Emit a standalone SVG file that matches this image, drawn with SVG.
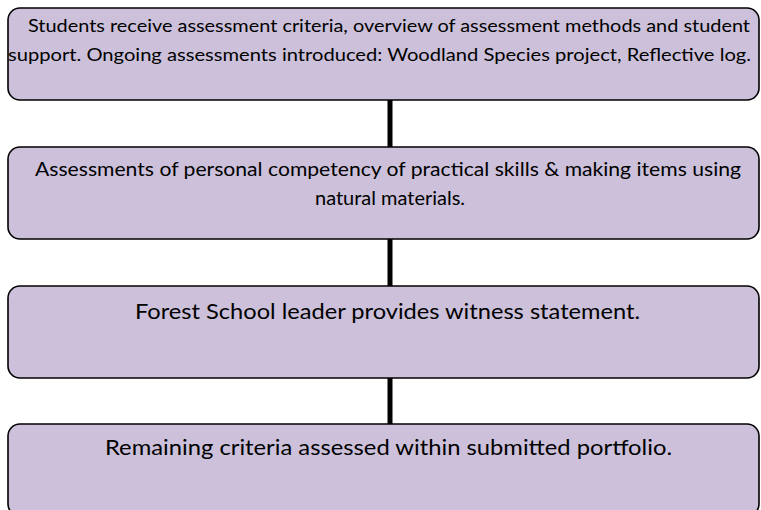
<svg xmlns="http://www.w3.org/2000/svg" width="761" height="510" viewBox="0 0 761 510">
<style>
.box{fill:#CCC0DA;stroke:#000;stroke-width:1.6}
.t{font-family:Lato,"Noto Sans","DejaVu Sans",sans-serif;fill:#000}
.s1{font-size:17px}
.s2{font-size:19.5px}
.s3{font-size:21.5px}
.c{stroke:#000;stroke-width:5;fill:none}
</style>
<rect width="761" height="510" fill="#fff"/>
<g id="connectors">
<line class="c" x1="390" y1="100" x2="390" y2="147"/>
<line class="c" x1="390" y1="239" x2="390" y2="286"/>
<line class="c" x1="390" y1="378" x2="390" y2="424"/>
</g>
<g id="node1">
<rect class="box" x="8" y="8" width="751" height="92" rx="12"/>
<text class="t s1" x="28" y="32" textLength="722" lengthAdjust="spacingAndGlyphs">Students receive assessment criteria, overview of assessment methods and student</text>
<text class="t s1" x="8" y="61" textLength="743" lengthAdjust="spacingAndGlyphs">support. Ongoing assessments introduced: Woodland Species project, Reflective log.</text>
</g>
<g id="node2">
<rect class="box" x="8" y="147" width="751" height="92" rx="12"/>
<text class="t s2" x="35" y="176" textLength="706" lengthAdjust="spacingAndGlyphs">Assessments of personal competency of practical skills &amp; making items using</text>
<text class="t s2" x="390" y="205" text-anchor="middle" textLength="150" lengthAdjust="spacingAndGlyphs">natural materials.</text>
</g>
<g id="node3">
<rect class="box" x="8" y="286" width="751" height="92" rx="12"/>
<text class="t s3" x="135" y="319" textLength="505" lengthAdjust="spacingAndGlyphs">Forest School leader provides witness statement.</text>
</g>
<g id="node4">
<rect class="box" x="8" y="424" width="751" height="92" rx="12"/>
<text class="t s3" x="105" y="455" textLength="567" lengthAdjust="spacingAndGlyphs">Remaining criteria assessed within submitted portfolio.</text>
</g>
</svg>
